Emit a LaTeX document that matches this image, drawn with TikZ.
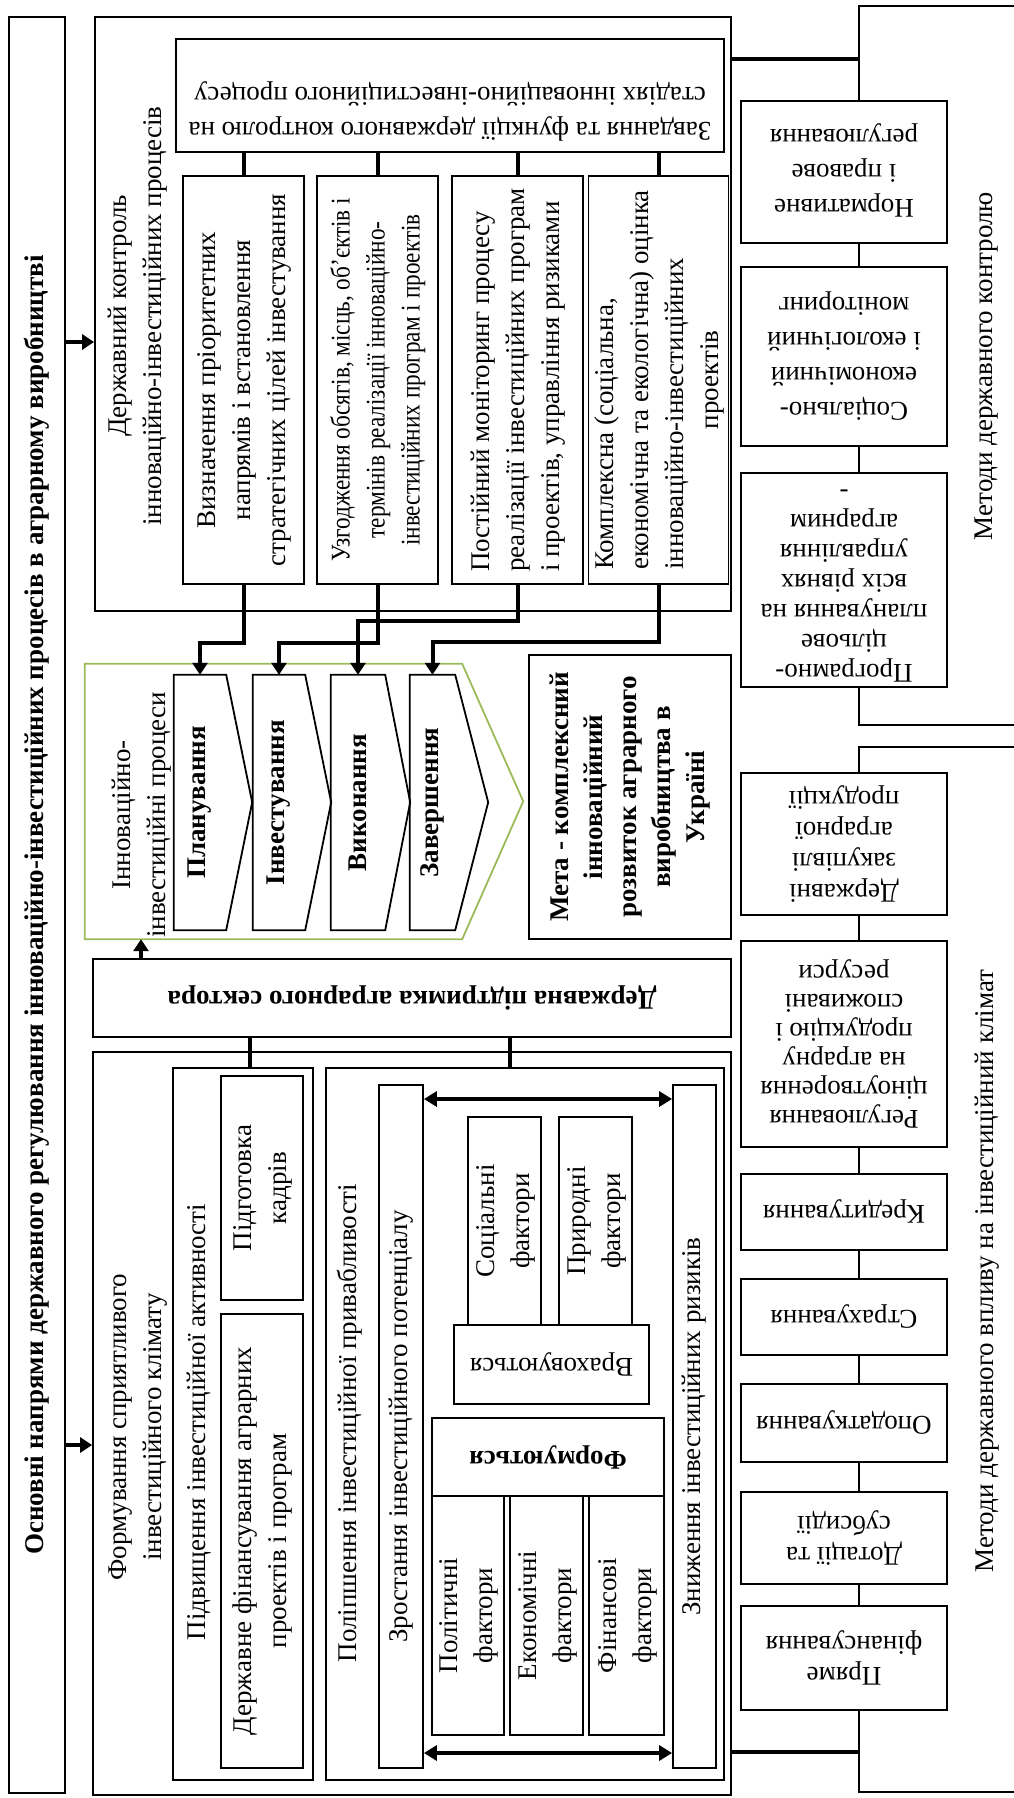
\documentclass[tikz,border=0pt]{standalone}
\usepackage{fontspec}
\setmainfont{Liberation Serif}
\newfontfamily\condfont[FakeStretch=0.86]{Liberation Serif}
\usepackage{graphicx}
\usetikzlibrary{arrows.meta}

% rotated multi-line texts
\newcommand{\vt}[1]{\rotatebox{90}{\begin{tabular}{@{}c@{}}#1\end{tabular}}}
\newcommand{\vtl}[1]{\rotatebox{90}{\begin{tabular}{@{}l@{}}#1\end{tabular}}}
\newcommand{\ut}[2][31pt]{\rotatebox{180}{\fontsize{27}{#1}\selectfont\begin{tabular}{@{}c@{}}#2\end{tabular}}}

\definecolor{procgreen}{RGB}{155,187,89}

\begin{document}
\begin{tikzpicture}[
        x=1pt, y=-1pt,
        every node/.style={font=\fontsize{27}{35}\selectfont, inner sep=0pt},
        box/.style={draw, line width=1.8pt, inner sep=0pt},
        bnode/.style={font=\fontsize{27}{34}\selectfont\bfseries},
        chev/.style={draw, line width=1.8pt},
        link/.style={line width=4pt},
        tline/.style={line width=1.6pt},
        arrow/.style={line width=4pt, -{Triangle[width=15pt,length=12pt]}},
        twoway/.style={line width=4pt, {Triangle[width=15pt,length=13pt]}-{Triangle[width=15pt,length=13pt]}}
    ]
    \useasboundingbox (0,0) rectangle (1014,1798);

    % left strip
    \node[box, bnode, minimum width=56, minimum height=1776] (strip) at (37,905)
        {\rotatebox{90}{Основні напрями державного регулювання інноваційно-інвестиційних процесів в аграрному виробництві}};

    % state control
    \node[box, minimum width=636, minimum height=594] (ctrl) at (413,314) {};
    \node (ctrltitle) at (137,316) {\vt{Державний контроль\\інноваційно-інвестиційних процесів}};
    \node[box, minimum width=548, minimum height=113] (zavd) at (450,95.5) {};
    \node (zavdtext) at (450,112) {\ut[35pt]{Завдання та функції державного контролю на\\стадіях інноваційно-інвестиційного процесу}};

    \node[box, minimum width=121, minimum height=408] (sa) at (243.5,380)
        {\vt{Визначення пріоритетних\\напрямів і встановлення\\стратегічних цілей інвестування}};
    \node[box, minimum width=121, minimum height=408] (sb) at (377.5,380)
        {\condfont\vt{Узгодження обсягів, місць, об’єктів і\\термінів реалізації інноваційно-\\інвестиційних програм і проектів}};
    \node[box, minimum width=131, minimum height=408] (sc) at (517.5,380)
        {\vtl{Постійний моніторинг процесу\\реалізації інвестиційних програм\\і проектів, управління ризиками}};
    \node[box, minimum width=131, minimum height=408] (sd) at (658.5,380)
        {\vtl{Комплексна (соціальна,\\економічна та екологічна) оцінка\\інноваційно-інвестиційних\\\multicolumn{1}{c}{проектів}}};

    \draw[link] (sa.north |- zavd.south) -- (sa.north);
    \draw[link] (sb.north |- zavd.south) -- (sb.north);
    \draw[link] (sc.north |- zavd.south) -- (sc.north);
    \draw[link] (sd.north |- zavd.south) -- (sd.north);

    % innovation-investment processes
    \node[minimum width=377, minimum height=275] (proc) at (273.5,801.5) {};
    \draw[line width=1.8pt, procgreen] (proc.north west) -- (proc.north east) -- ++(61,137.5)
        -- (proc.south east) -- (proc.south west) -- cycle;
    \node (proctitle) at (141,815) {\vt{Інноваційно-\\інвестиційні процеси}};

    \node[bnode, minimum width=52, minimum height=255] (plan) at (200,802.5) {\rotatebox{90}{Планування}};
    \draw[chev] (plan.north west) -- (plan.north east) -- ++(26,127.5) -- (plan.south east) -- (plan.south west) -- cycle;
    \node[bnode, minimum width=52, minimum height=255] (inv) at (279,802.5) {\rotatebox{90}{Інвестування}};
    \draw[chev] (inv.north west) -- (inv.north east) -- ++(26,127.5) -- (inv.south east) -- (inv.south west) -- cycle;
    \node[bnode, minimum width=54, minimum height=255] (vyk) at (358,802.5) {\rotatebox{90}{Виконання}};
    \draw[chev] (vyk.north west) -- (vyk.north east) -- ++(25,127.5) -- (vyk.south east) -- (vyk.south west) -- cycle;
    \node[bnode, minimum width=45, minimum height=255] (zav) at (432.5,802.5) {\rotatebox{90}{Завершення}};
    \draw[chev] (zav.north west) -- (zav.north east) -- ++(33,127.5) -- (zav.south east) -- (zav.south west) -- cycle;

    \draw[arrow] (sa.south) -- (sa.south |- 0,643) -| (plan.north);
    \draw[arrow] (sb.south) -- (sb.south |- 0,643) -| (inv.north);
    \draw[arrow] (sc.south) -- (sc.south |- 0,621) -| (vyk.north);
    \draw[arrow] (sd.south) -- (sd.south |- 0,642) -| (zav.north);

    \node[box, bnode, minimum width=202, minimum height=284] (meta) at (630,797)
        {\vt{Мета - комплексний\\інноваційний\\розвиток аграрного\\виробництва в\\Україні}};

    % state support
    \node[box, bnode, minimum width=638, minimum height=78] (derzh) at (412,998)
        {\rotatebox{180}{Державна підтримка аграрного сектора}};
    \draw[arrow] (derzh.north -| proctitle) -- (proc.south -| proctitle);

    % investment climate
    \node[box, minimum width=638, minimum height=743] (klim) at (412,1423.5) {};
    \node (klimtitle) at (137,1427) {\vt{Формування сприятливого\\інвестиційного клімату}};

    \node[box, minimum width=140, minimum height=712] (akt) at (243,1424) {};
    \node (akttitle) at (199,1422) {\rotatebox{90}{Підвищення інвестиційної активності}};
    \node[box, minimum width=82, minimum height=224] (kadry) at (262,1188) {\vt{Підготовка\\кадрів}};
    \node[box, minimum width=82, minimum height=454] (dfin) at (262,1541) {\vt{Державне фінансування аграрних\\проектів і програм}};

    \node[box, minimum width=398, minimum height=712] (pryv) at (525,1424) {};
    \node (pryvtitle) at (350,1423) {\rotatebox{90}{Поліпшення інвестиційної привабливості}};
    \node[box, minimum width=44, minimum height=683] (zrost) at (401,1426.5) {\rotatebox{90}{Зростання інвестиційного потенціалу}};
    \node[box, minimum width=43, minimum height=683] (znyzh) at (694.5,1426.5) {\rotatebox{90}{Зниження інвестиційних ризиків}};
    \node[box, minimum width=73, minimum height=208] (soc) at (504.5,1221) {\vt{Соціальні\\фактори}};
    \node[box, minimum width=73, minimum height=208] (pryr) at (595.5,1221) {\vt{Природні\\фактори}};
    \node[box, minimum width=195, minimum height=79] (vrakh) at (551.5,1364.5) {\rotatebox{180}{Враховуються}};
    \node[box, bnode, minimum width=232, minimum height=78] (form) at (548,1457) {\rotatebox{180}{Формуються}};
    \node[box, minimum width=72, minimum height=239] (pol) at (468,1615.5) {\vt{Політичні\\фактори}};
    \node[box, minimum width=73, minimum height=239] (ekon) at (546.5,1615.5) {\vt{Економічні\\фактори}};
    \node[box, minimum width=75, minimum height=239] (fin) at (626.5,1615.5) {\vt{Фінансові\\фактори}};

    \draw[link] (derzh.south -| 250,0) -- (akt.north -| 250,0);
    \draw[link] (derzh.south -| 510,0) -- (pryv.north -| 510,0);
    \draw[twoway] (zrost.east |- 0,1099) -- (znyzh.west |- 0,1099);
    \draw[twoway] (zrost.east |- 0,1753) -- (znyzh.west |- 0,1753);

    \draw[arrow] (strip.east |- 0,342) -- (ctrl.west |- 0,342);
    \draw[arrow] (strip.east |- 0,1445) -- (klim.west |- 0,1445);

    % methods
    \coordinate (spine) at (859,0);
    \coordinate (edge) at (1014,0);
    \node[box, minimum width=206, minimum height=142] (norm) at (844,172) {\ut[35pt]{Нормативне\\і правове\\регулювання}};
    \node[box, minimum width=206, minimum height=179] (socm) at (844,356.5) {\ut[35pt]{Соціально-\\економічний\\і екологічний\\моніторинг}};
    \node[box, minimum width=206, minimum height=214] (prog) at (844,580) {\ut[30pt]{Програмно-\\цільове\\планування на\\всіх рівнях\\управління\\аграрним\\-}};
    \node[box, minimum width=206, minimum height=142] (zak) at (844,844) {\ut{Державні\\закупівлі\\аграрної\\продукції}};
    \node[box, minimum width=206, minimum height=206] (reg) at (844,1044) {\ut[29pt]{Регулювання\\ціноутворення\\на аграрну\\продукцію і\\споживані\\ресурси}};
    \node[box, minimum width=206, minimum height=76] (kred) at (844,1212) {\ut{Кредитування}};
    \node[box, minimum width=206, minimum height=76] (strakh) at (844,1317) {\ut{Страхування}};
    \node[box, minimum width=206, minimum height=78] (opod) at (844,1423) {\ut{Оподаткування}};
    \node[box, minimum width=206, minimum height=92] (dot) at (844,1538) {\ut{Дотації та\\субсидії}};
    \node[box, minimum width=206, minimum height=104] (pryame) at (844,1658) {\ut{Пряме\\фінансування}};

    \node (mctrl) at (987,366) {\rotatebox{90}{Методи державного контролю}};
    \node (mvpl) at (987,1271) {\rotatebox{90}{Методи державного впливу на інвестиційний клімат}};

    \draw[link] (ctrl.east |- 0,59) -- (spine |- 0,59);
    \draw[tline] (edge |- 0,6) -- (spine |- 0,6) -- (norm.north -| spine);
    \draw[tline] (norm.south -| spine) -- (socm.north -| spine);
    \draw[tline] (socm.south -| spine) -- (prog.north -| spine);
    \draw[tline] (prog.south -| spine) -- (spine |- 0,725) -- (edge |- 0,725);

    \draw[tline] (edge |- 0,747) -- (spine |- 0,747) -- (zak.north -| spine);
    \draw[tline] (zak.south -| spine) -- (reg.north -| spine);
    \draw[tline] (reg.south -| spine) -- (kred.north -| spine);
    \draw[tline] (kred.south -| spine) -- (strakh.north -| spine);
    \draw[tline] (strakh.south -| spine) -- (opod.north -| spine);
    \draw[tline] (opod.south -| spine) -- (dot.north -| spine);
    \draw[tline] (dot.south -| spine) -- (pryame.north -| spine);
    \draw[tline] (pryame.south -| spine) -- (spine |- 0,1792) -- (edge |- 0,1792);
    \draw[link] (klim.east |- 0,1752) -- (spine |- 0,1752);
\end{tikzpicture}
\end{document}
